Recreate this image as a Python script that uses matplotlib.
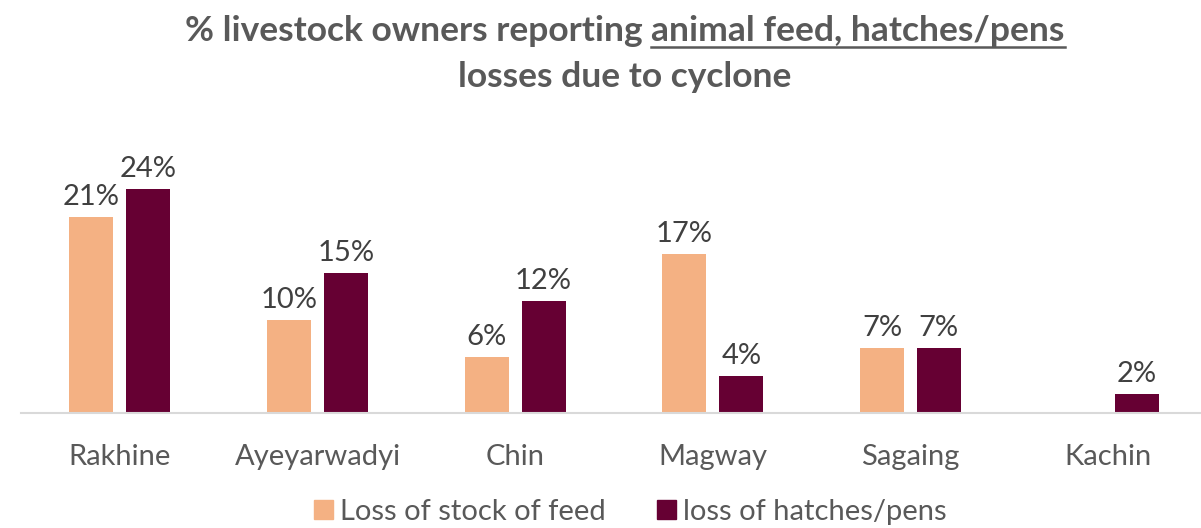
import numpy as np
import matplotlib
matplotlib.use("Agg")
import matplotlib.pyplot as plt
from matplotlib.lines import Line2D
from matplotlib.patches import Patch

plt.rcParams['font.family'] = ['Lato', 'DejaVu Sans']

regions = ["Rakhine", "Ayeyarwadyi", "Chin", "Magway", "Sagaing", "Kachin"]
feed_loss = [21, 10, 6, 17, 7, None]
pens_loss = [24, 15, 12, 4, 7, 2]
series_names = ["Loss of stock of feed", "loss of hatches/pens"]
title_plain = "% livestock owners reporting "
title_underlined = "animal feed, hatches/pens"
title_line2 = "losses due to cyclone"

feed_color = "#F4B183"
pens_color = "#660033"
label_color = "#404040"
text_color = "#595959"

W, H = 1201, 528
fig = plt.figure(figsize=(W / 100, H / 100), dpi=100)
ax = fig.add_axes([21 / W, 115 / H, (1201 - 21) / W, 290 / H])

x = np.arange(len(regions))
bw = 0.223
off = 0.144
feed_vals = np.array([np.nan if v is None else v for v in feed_loss], dtype=float)
pens_vals = np.array(pens_loss, dtype=float)

b1 = ax.bar(x - off, feed_vals, bw, color=feed_color, zorder=2)
b2 = ax.bar(x + off, pens_vals, bw, color=pens_color, zorder=2)

for bars, vals in ((b1, feed_vals), (b2, pens_vals)):
    for rect, v in zip(bars, vals):
        if np.isnan(v):
            continue
        ax.annotate(f"{v:.0f}%", (rect.get_x() + rect.get_width() / 2, v),
                    xytext=(0, 5), textcoords="offset points",
                    ha="center", va="bottom", fontsize=21, color=label_color)

ax.set_xlim(-0.5, len(regions) - 0.5 - 0.03)
ax.set_ylim(0, 290 / 9.33)
ax.set_xticks(x)
ax.set_xticklabels(regions, fontsize=21, color=text_color)
ax.tick_params(axis="x", length=0, pad=22)
ax.set_yticks([])
for s in ("left", "right", "top"):
    ax.spines[s].set_visible(False)
ax.spines["bottom"].set_color("#D9D9D9")
ax.spines["bottom"].set_linewidth(1.5)
ax.spines["bottom"].set_zorder(3)

# Title: first line with an underlined phrase, centred as a whole
renderer = fig.canvas.get_renderer()
tkw = dict(fontsize=25.5, fontweight="bold", color=text_color, va="baseline", ha="left")
t_a = fig.text(0, 0, title_plain, **tkw)
t_b = fig.text(0, 0, title_underlined, **tkw)
wa = t_a.get_window_extent(renderer).width
wb = t_b.get_window_extent(renderer).width
cx = 625
y1 = H - 41
x0 = cx - (wa + wb) / 2
t_a.set_position((x0 / W, y1 / H))
t_b.set_position(((x0 + wa) / W, y1 / H))
fig.add_artist(Line2D([(x0 + wa) / W, (x0 + wa + wb) / W], [(y1 - 6) / H] * 2,
                      color=text_color, lw=1.8, transform=fig.transFigure))
fig.text(cx / W, (H - 87) / H, title_line2, fontsize=25.5, fontweight="bold",
         color=text_color, ha="center", va="baseline")

handles = [Patch(color=feed_color), Patch(color=pens_color)]
fig.legend(handles, series_names, loc="center", bbox_to_anchor=(630 / W, 16 / H),
           ncol=2, frameon=False, fontsize=21, labelcolor=text_color,
           handlelength=0.65, handleheight=0.65, handletextpad=0.25,
           columnspacing=1.75)

fig.savefig("out.png", dpi=100)
